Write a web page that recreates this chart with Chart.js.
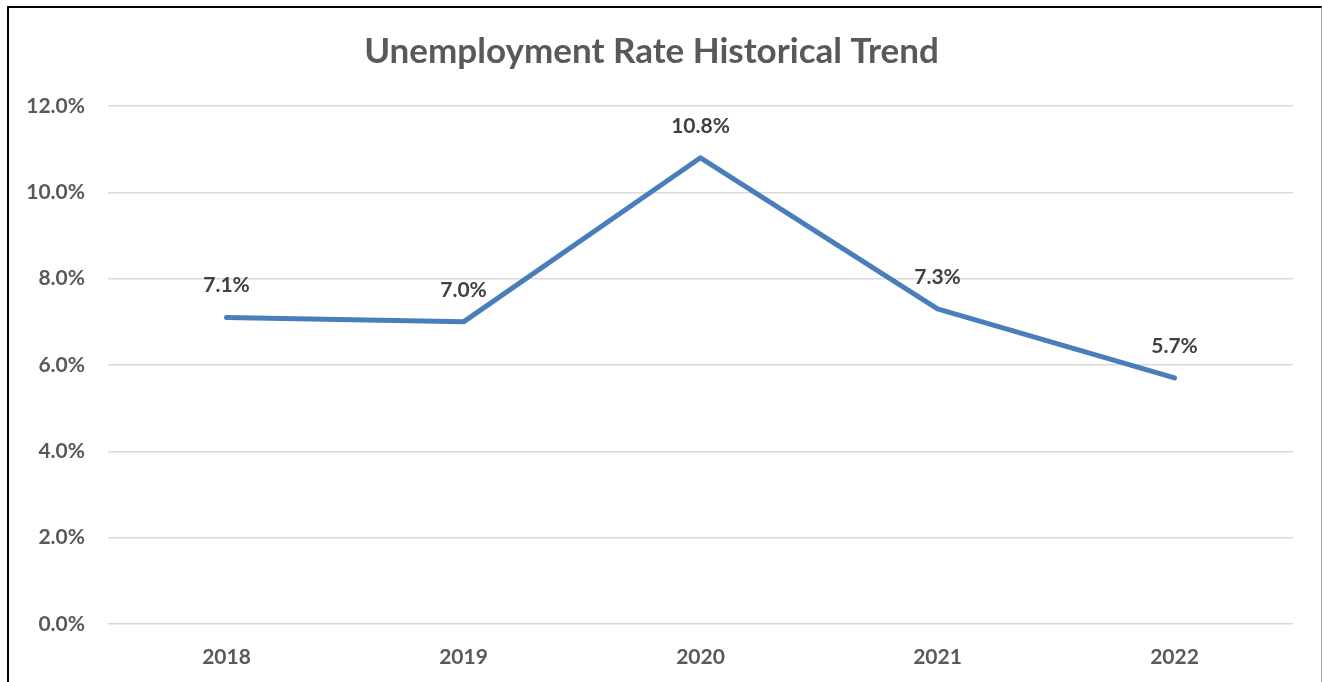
<!DOCTYPE html>
<html>
<head>
<meta charset="utf-8">
<title>Unemployment Rate Historical Trend</title>
<script src="https://cdn.jsdelivr.net/npm/chart.js@4/dist/chart.umd.min.js"></script>
<style>
    html, body { margin: 0; padding: 0; background: #fff; overflow: hidden; }
    #wrap { position: relative; width: 1322px; height: 682px; }
    #chart { position: absolute; left: 0; top: 0; }
    /* frame around the chart */
    #frame {
        position: absolute; left: 7px; top: 6px; width: 1312px; height: 690px;
        border-top: 2px solid #000; border-left: 2px solid #000; border-right: 1px solid #a6a6a6;
        pointer-events: none;
    }
</style>
</head>
<body>
<div id="wrap">
    <canvas id="chart" width="1322" height="682"></canvas>
    <div id="frame"></div>
</div>
<script>
const years = ['2018', '2019', '2020', '2021', '2022'];
const rates = [7.1, 7.0, 10.8, 7.3, 5.7];
const yTicks = [0, 2, 4, 6, 8, 10, 12];

const FONT = 'Lato, "Open Sans", sans-serif';

/* value labels above each point */
const pointLabels = {
    id: 'pointLabels',
    afterDatasetsDraw(chart) {
        const ctx = chart.ctx;
        const meta = chart.getDatasetMeta(0);
        ctx.save();
        ctx.font = 'bold 21px ' + FONT;
        ctx.fillStyle = '#404040';
        ctx.textAlign = 'center';
        ctx.textBaseline = 'middle';
        meta.data.forEach((pt, i) => {
            ctx.fillText(rates[i].toFixed(1) + '%', pt.x, pt.y - 32);
        });
        ctx.restore();
    }
};

const ctx = document.getElementById('chart');
new Chart(ctx.getContext('2d'), {
    type: 'line',
    data: {
        labels: years,
        datasets: [{
            data: rates,
            borderColor: '#4a7ebb',
            borderWidth: 5,
            borderJoinStyle: 'round',
            borderCapStyle: 'round',
            pointRadius: 0,
            tension: 0,
            fill: false
        }]
    },
    options: {
        responsive: false,
        animation: false,
        layout: {
            padding: { left: 10, right: 29, top: 0, bottom: 0 }
        },
        plugins: {
            legend: { display: false },
            tooltip: { enabled: false },
            title: {
                display: true,
                text: 'Unemployment Rate Historical Trend',
                color: '#595959',
                font: { family: FONT, size: 35, weight: 'bold' },
                padding: { top: 31, bottom: 33 }
            }
        },
        scales: {
            x: {
                offset: true,
                grid: { display: false },
                border: { display: false },
                ticks: {
                    color: '#595959',
                    font: { family: FONT, size: 21, weight: 'bold' },
                    padding: 13
                },
                afterFit(scale) { scale.height = 58; }
            },
            y: {
                min: 0,
                max: 12,
                afterBuildTicks(scale) {
                    scale.ticks = yTicks.map(v => ({ value: v }));
                },
                grid: { color: '#d9d9d9', lineWidth: 1.5, drawTicks: false },
                border: { display: false },
                ticks: {
                    color: '#595959',
                    font: { family: FONT, size: 21, weight: 'bold' },
                    padding: 23,
                    callback: v => v.toFixed(1) + '%'
                },
                afterFit(scale) { scale.width = 98; }
            }
        }
    },
    plugins: [pointLabels]
});
</script>
</body>
</html>
